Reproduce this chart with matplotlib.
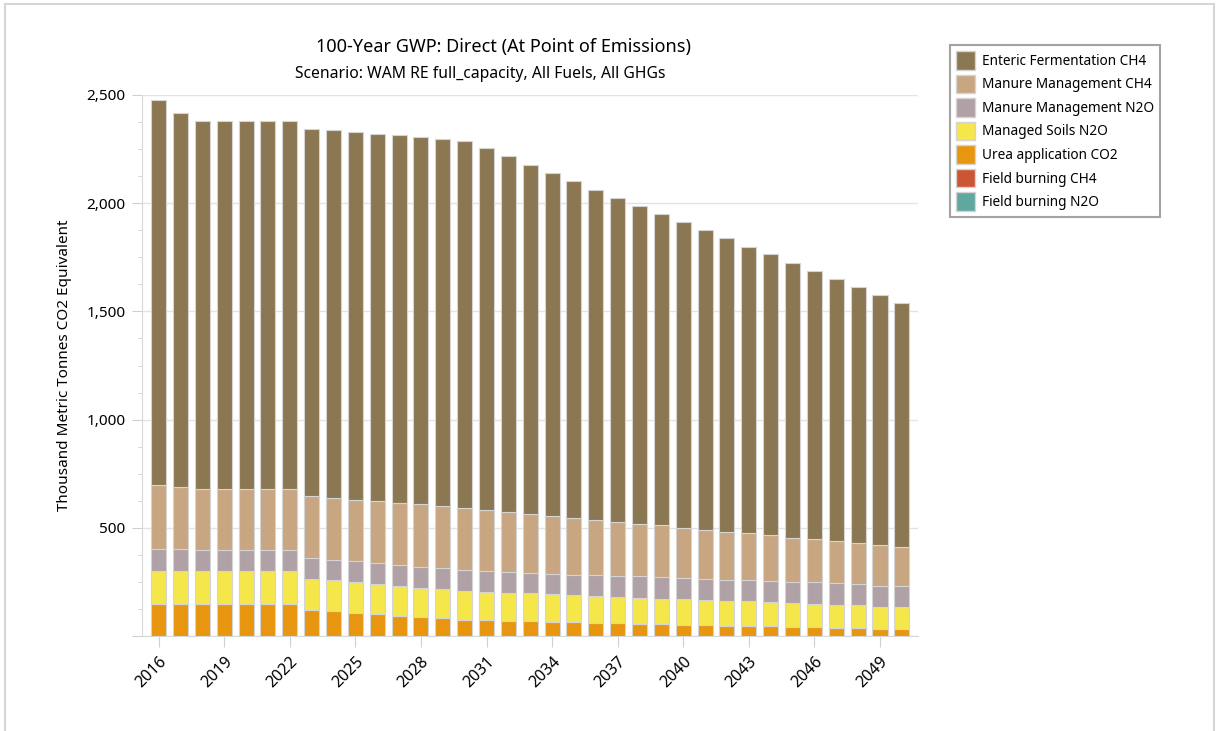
"""Stacked bars of agriculture GHG emissions (100-year GWP), 2016-2050."""

import matplotlib
matplotlib.use('Agg')
import matplotlib.pyplot as plt
from matplotlib.lines import Line2D
from matplotlib.ticker import FuncFormatter, MultipleLocator

plt.rcParams['font.family'] = ['Noto Sans', 'DejaVu Sans']

years = list(range(2016, 2051))

# values in thousand metric tonnes CO2e
field_n2o = [0.3] * 35
field_ch4 = [1.0] * 35
urea = [145, 145, 145, 145, 145, 145, 145, 119, 112, 105, 99, 91, 86, 80, 74, 71, 69, 66,
        63, 62, 60, 57, 54, 52, 51, 48, 46, 43, 43, 40, 38, 35, 34, 32, 31]
soils_n2o = [155, 155, 155, 155, 155, 155, 155, 144, 144, 143, 141, 140, 136, 134, 133, 132, 130, 130,
             128, 124, 123, 123, 122, 119, 117, 118, 116, 116, 113, 112, 110, 108, 106, 103, 102]
manure_n2o = [99, 99, 96, 96, 96, 96, 96, 96, 94, 95, 96, 96, 97, 97, 97, 96, 95, 94,
              94, 96, 96, 97, 98, 99, 97, 94, 95, 97, 95, 98, 98, 99, 99, 97, 97]
manure_ch4 = [297, 288, 283, 283, 283, 283, 283, 285, 286, 285, 286, 286, 288, 288, 287, 283, 279, 271,
              268, 263, 257, 250, 244, 240, 234, 230, 224, 217, 214, 203, 199, 196, 189, 185, 180]
enteric_ch4 = [1779, 1730, 1699, 1699, 1699, 1699, 1699, 1699, 1701, 1699, 1698, 1699, 1697, 1698, 1696,
               1670, 1642, 1613, 1585, 1555, 1525, 1498, 1470, 1440, 1413, 1385, 1355, 1325, 1297,
               1269, 1240, 1210, 1182, 1156, 1126]

series = [
    ('Field burning N2O', field_n2o, '#5fa8a0'),
    ('Field burning CH4', field_ch4, '#cc5533'),
    ('Urea application CO2', urea, '#e8960f'),
    ('Managed Soils N2O', soils_n2o, '#f5e64a'),
    ('Manure Management N2O', manure_n2o, '#b0a1a6'),
    ('Manure Management CH4', manure_ch4, '#c9a682'),
    ('Enteric Fermentation CH4', enteric_ch4, '#8b7752'),
]

fig = plt.figure(figsize=(12.16, 7.31), dpi=100)
ax = fig.add_axes([142 / 1216, 1 - 636 / 731, (918 - 142) / 1216, (636 - 95) / 731])

x = list(range(len(years)))
bottom = [0.0] * len(years)
handles = []
for name, vals, color in series:
    ax.bar(x, vals, bottom=bottom, width=0.69, color=color, edgecolor='#d4d4d4', linewidth=0.8, zorder=3)
    bottom = [b + v for b, v in zip(bottom, vals)]
    handles.append((name, color))

ax.set_xlim(-0.76, 34.74)
ax.set_ylim(0, 2500)
ax.set_xticks(x[::3])
ax.set_xticklabels([str(y) for y in years[::3]], rotation=45, ha='right', rotation_mode='anchor', fontsize=11.5)
ax.yaxis.set_major_locator(MultipleLocator(500))
ax.yaxis.set_minor_locator(MultipleLocator(125))
ax.yaxis.set_major_formatter(FuncFormatter(lambda v, p: f'{int(v):,}' if v > 0 else ''))
ax.tick_params(axis='y', which='major', length=7, color='#d0d0d0', labelsize=11, pad=5)
ax.tick_params(axis='y', which='minor', length=3, color='#d0d0d0')
ax.tick_params(axis='x', length=8, color='#d0d0d0', pad=5)
ax.grid(axis='y', color='#e3e3e3', linewidth=1, zorder=0)
for s in ['top', 'right']:
    ax.spines[s].set_visible(False)
for s in ['left', 'bottom']:
    ax.spines[s].set_color('#d8d8d8')
ax.set_ylabel('Thousand Metric Tonnes CO2 Equivalent', fontsize=11, labelpad=10)

fig.text(503 / 1216, 1 - 47 / 731, '100-Year GWP: Direct (At Point of Emissions)',
         ha='center', va='center', fontsize=13)
fig.text(480 / 1216, 1 - 74 / 731, 'Scenario: WAM RE full_capacity, All Fuels, All GHGs',
         ha='center', va='center', fontsize=11.3)

# legend, top entry first
leg_handles = [plt.Rectangle((0, 0), 1, 1, facecolor=c, edgecolor='#d4d4d4') for n, c in handles[::-1]]
leg = fig.legend(leg_handles, [n for n, c in handles[::-1]], loc='upper left',
                 bbox_to_anchor=(950 / 1216, 1 - 45 / 731), borderaxespad=0, fontsize=9.8,
                 frameon=True, fancybox=False, handlelength=1.37, handleheight=1.73,
                 labelspacing=0.36, borderpad=0.45, handletextpad=0.5)
leg.get_frame().set_edgecolor('#8c8c8c')
leg.get_frame().set_linewidth(1.5)

# panel border
for xs, ys in [([4.5, 4.5], [731, 4]), ([4.5, 1214], [4, 4]), ([1214, 1214], [4, 731])]:
    fig.add_artist(Line2D([v / 1216 for v in xs], [1 - v / 731 for v in ys], color='#d6d6d6', linewidth=1.5))

fig.savefig('out.png', dpi=100)
